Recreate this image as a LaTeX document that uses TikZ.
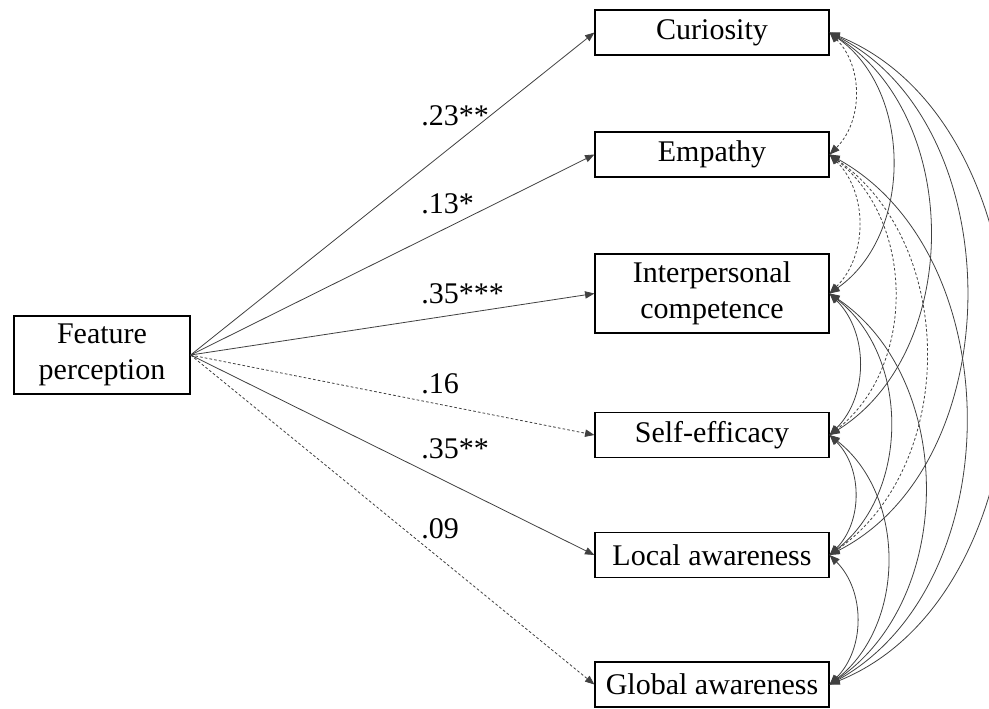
\documentclass[tikz,border=0pt]{standalone}
\usepackage{fontspec}
\setmainfont{Liberation Serif}
\usetikzlibrary{arrows.meta}
\begin{document}
\begin{tikzpicture}[x=0.75pt,y=-0.75pt,
  every node/.style={font=\fontsize{22.5}{27}\selectfont},
  box/.style={draw=black, line width=0.9pt, inner sep=0pt, minimum width=175.5pt, minimum height=33.75pt, align=center},
  lbl/.style={inner sep=0pt, anchor=base west},
  path/.style={draw=black!75, line width=0.6pt, -{Triangle[length=7pt,width=5.5pt]}},
  cov/.style={draw=black!75, line width=0.6pt, {Triangle[length=7.5pt,width=6pt]}-{Triangle[length=7.5pt,width=6pt]}},
  dsh/.style={dash pattern=on 2pt off 1.6pt}]
\useasboundingbox (0,0) rectangle (989,708);
\node[box, minimum width=132pt, minimum height=58.5pt] (fp) at (102,355) {Feature\\perception};
\node[box] (c) at (712,32.5) {Curiosity};
\node[box] (e) at (712,154.5) {Empathy};
\node[box, minimum height=59.25pt] (i) at (712,293.5) {Interpersonal\\competence};
\node[box] (s) at (712,435) {Self-efficacy};
\node[box] (l) at (712,555) {Local awareness};
\node[box] (g) at (712,684.5) {Global awareness};

\draw[path] (fp.east) -- (c.west);
\draw[path] (fp.east) -- (e.west);
\draw[path] (fp.east) -- (i.west);
\draw[path, dsh] (fp.east) -- (s.west);
\draw[path] (fp.east) -- (l.west);
\draw[path, dsh] (fp.east) -- (g.west);

\node[lbl] (t1) at (421,125) {.23**};
\node[lbl] (t2) at (421,213) {.13*};
\node[lbl] (t3) at (421,303) {.35***};
\node[lbl] (t4) at (421,393) {.16};
\node[lbl] (t5) at (421,458) {.35**};
\node[lbl] (t6) at (421,538) {.09};

\draw[cov, dsh] (c.east) to[bend left=45] (e.east);
\draw[cov] (c.east) to[bend left=55] (i.east);
\draw[cov] (c.east) to[bend left=58] (s.east);
\draw[cov] (c.east) to[bend left=63] (l.east);
\draw[cov] (c.east) to[bend left=68] (g.east);
\draw[cov, dsh] (e.east) to[bend left=45] (i.east);
\draw[cov, dsh] (e.east) to[bend left=52] (s.east);
\draw[cov, dsh] (e.east) to[bend left=55] (l.east);
\draw[cov] (e.east) to[bend left=61] (g.east);
\draw[cov] (i.east) to[bend left=45] (s.east);
\draw[cov] (i.east) to[bend left=52] (l.east);
\draw[cov] (i.east) to[bend left=56] (g.east);
\draw[cov] (s.east) to[bend left=45] (l.east);
\draw[cov] (s.east) to[bend left=52] (g.east);
\draw[cov] (l.east) to[bend left=45] (g.east);
\end{tikzpicture}
\end{document}
